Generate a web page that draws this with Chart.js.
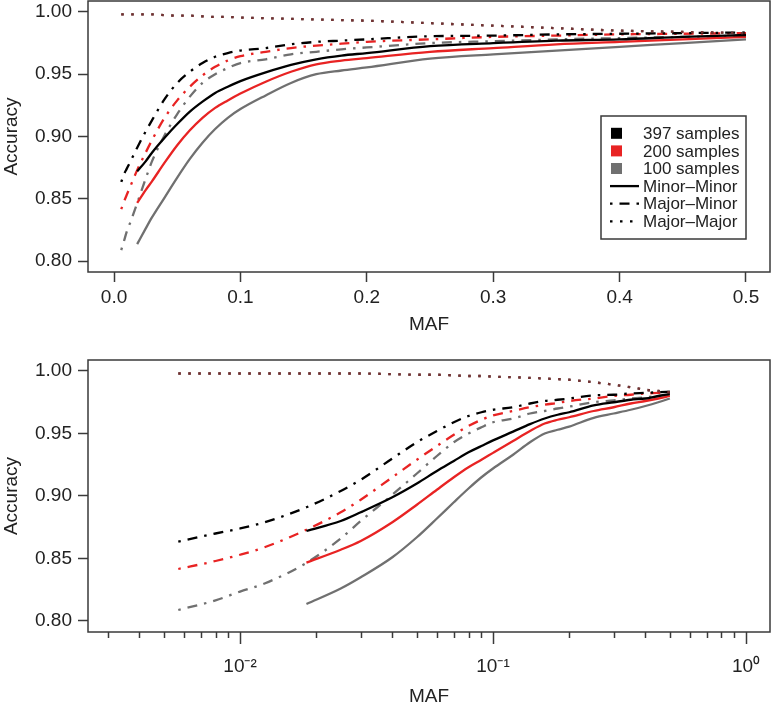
<!DOCTYPE html>
<html>
<head>
<meta charset="utf-8">
<script src="https://cdn.jsdelivr.net/npm/chart.js@4.4.1/dist/chart.umd.min.js"></script>
<style>
  html, body { margin: 0; padding: 0; background: #fff; overflow: hidden; }
  #top { position: absolute; left: 0; top: 0; width: 772px; height: 345px; }
  #bottom { position: absolute; left: 0; top: 345px; width: 772px; height: 365px; }
</style>
</head>
<body>
<div id="top"><canvas id="topChart"></canvas></div>
<div id="bottom"><canvas id="bottomChart"></canvas></div>
<script>
'use strict'
{
  // MAF grid the curves were read at
  const maf = [0.0057, 0.008, 0.01, 0.0125, 0.0183, 0.025, 0.03, 0.04, 0.05, 0.06, 0.07, 0.08, 0.09,
    0.1, 0.12, 0.14, 0.16, 0.18, 0.2, 0.25, 0.3, 0.35, 0.4, 0.45, 0.5];

  // Minor-Minor (solid)
  const mnmn397 = [null, null, null, null, 0.872, 0.880, 0.887, 0.899, 0.910, 0.920, 0.928, 0.935, 0.940,
    0.9445, 0.9515, 0.9575, 0.962, 0.965, 0.967, 0.9725, 0.975, 0.977, 0.978, 0.980, 0.9815];
  const mnmn200 = [null, null, null, null, 0.8467, 0.857, 0.864, 0.879, 0.893, 0.905, 0.915, 0.923, 0.929,
    0.9345, 0.944, 0.952, 0.958, 0.961, 0.963, 0.968, 0.971, 0.974, 0.976, 0.978, 0.980];
  const mnmn100 = [null, null, null, null, 0.8136, 0.826, 0.835, 0.851, 0.867, 0.882, 0.895, 0.906, 0.915,
    0.922, 0.933, 0.943, 0.950, 0.953, 0.9555, 0.9625, 0.966, 0.969, 0.972, 0.975, 0.978];

  // Major-Minor (dot-dash)
  const mjmn397 = [0.8635, 0.870, 0.874, 0.879, 0.891, 0.904, 0.913, 0.930, 0.943, 0.952, 0.959, 0.964, 0.967,
    0.969, 0.971, 0.974, 0.976, 0.977, 0.978, 0.9805, 0.981, 0.982, 0.9825, 0.983, 0.9835];
  const mjmn200 = [0.8416, 0.848, 0.853, 0.859, 0.873, 0.887, 0.897, 0.915, 0.929, 0.940, 0.949, 0.956, 0.961,
    0.9645, 0.968, 0.971, 0.973, 0.9745, 0.976, 0.978, 0.980, 0.981, 0.982, 0.9825, 0.983];
  const mjmn100 = [0.8088, 0.8165, 0.8235, 0.830, 0.8465, 0.866, 0.880, 0.901, 0.918, 0.932, 0.943, 0.950, 0.955,
    0.959, 0.962, 0.966, 0.968, 0.970, 0.9715, 0.975, 0.9765, 0.978, 0.979, 0.980, 0.981];

  // Major-Major (dotted)
  const mjmj397 = [0.998, 0.998, 0.998, 0.998, 0.998, 0.998, 0.998, 0.9975, 0.997, 0.997, 0.9965, 0.996, 0.996,
    0.9955, 0.995, 0.9945, 0.994, 0.9935, 0.993, 0.991, 0.989, 0.987, 0.985, 0.984, 0.983];
  const mjmj200 = [0.998, 0.998, 0.998, 0.998, 0.998, 0.998, 0.998, 0.9975, 0.997, 0.997, 0.9965, 0.996, 0.996,
    0.9955, 0.995, 0.9945, 0.994, 0.9935, 0.993, 0.991, 0.989, 0.987, 0.985, 0.984, 0.983];
  const mjmj100 = [0.998, 0.998, 0.998, 0.998, 0.998, 0.998, 0.998, 0.9975, 0.997, 0.997, 0.9965, 0.996, 0.996,
    0.9955, 0.995, 0.9945, 0.994, 0.9935, 0.993, 0.991, 0.989, 0.987, 0.985, 0.984, 0.983];

  const yTicks = [0.80, 0.85, 0.90, 0.95, 1.00];
  const xTicksTop = [0.0, 0.1, 0.2, 0.3, 0.4, 0.5];
  const logMajor = [0.01, 0.1, 1];
  const logLabels = ['10\u207B\u00B2', '10\u207B\u00B9', '10\u2070'];

  const sampleLabels = ['397 samples', '200 samples', '100 samples'];
  const typeLabels = ['Minor\u2013Minor', 'Major\u2013Minor', 'Major\u2013Major'];

  const BLACK = '#000000';
  const RED = '#e82323';
  const GRAY = '#707070';
  const AXIS = '#3a3a3a';
  const FONT = 'Liberation Sans, Arial, sans-serif';

  const SOLID = [];
  const DOTDASH = [2.5, 7, 10, 7];
  const DOTTED = [2.5, 7.5];

  const pts = arr => maf.map((x, i) => ({ x: x, y: arr[i] })).filter(p => p.y !== null);

  const line = (arr, color, dash) => ({
    data: pts(arr),
    borderColor: color,
    borderWidth: 2.3,
    borderDash: dash,
    pointRadius: 0,
    cubicInterpolationMode: 'monotone',
    fill: false,
  });

  // first in list is drawn on top
  const makeDatasets = () => [
    line(mjmj100, 'rgba(112,112,112,0.35)', DOTTED),
    line(mjmj200, 'rgba(232,35,35,0.5)', DOTTED),
    line(mjmj397, BLACK, DOTTED),
    line(mnmn397, BLACK, SOLID),
    line(mjmn397, BLACK, DOTDASH),
    line(mnmn200, RED, SOLID),
    line(mjmn200, RED, DOTDASH),
    line(mnmn100, GRAY, SOLID),
    line(mjmn100, GRAY, DOTDASH),
  ];

  const boxPlugin = {
    id: 'box',
    afterDraw(chart) {
      const { ctx, chartArea: a } = chart;
      ctx.save();
      ctx.strokeStyle = AXIS;
      ctx.lineWidth = 1.5;
      ctx.strokeRect(a.left, a.top, a.right - a.left, a.bottom - a.top);
      ctx.restore();
    }
  };

  const legendPlugin = {
    id: 'rLegend',
    afterDraw(chart) {
      const { ctx, chartArea: a } = chart;
      const bx = a.right - 169, by = a.bottom - 156, bw = 145, bh = 123;
      ctx.save();
      ctx.fillStyle = '#fff';
      ctx.fillRect(bx, by, bw, bh);
      ctx.strokeStyle = AXIS;
      ctx.lineWidth = 1.5;
      ctx.strokeRect(bx, by, bw, bh);
      ctx.font = '17px ' + FONT;
      ctx.textBaseline = 'middle';
      ctx.textAlign = 'left';
      const cols = [BLACK, RED, GRAY];
      const dashes = [SOLID, DOTDASH, DOTTED];
      for (let i = 0; i < 6; i++) {
        const y = by + 17.3 + i * 17.6;
        if (i < 3) {
          ctx.fillStyle = cols[i];
          ctx.fillRect(bx + 10, y - 5.5, 11, 11);
          ctx.fillStyle = '#222';
          ctx.fillText(sampleLabels[i], bx + 42, y + 1);
        } else {
          ctx.strokeStyle = BLACK;
          ctx.lineWidth = 2.3;
          ctx.setLineDash(dashes[i - 3]);
          ctx.beginPath();
          ctx.moveTo(bx + 9, y);
          ctx.lineTo(bx + 38, y);
          ctx.stroke();
          ctx.setLineDash([]);
          ctx.fillStyle = '#222';
          ctx.fillText(typeLabels[i - 3], bx + 42, y + 1);
        }
      }
      ctx.restore();
    }
  };

  // log axis: longer marks at decades, short at 2..9
  const logTickPlugin = {
    id: 'logTicks',
    afterDraw(chart) {
      const { ctx, chartArea: a } = chart;
      const sx = chart.scales.x;
      ctx.save();
      ctx.strokeStyle = AXIS;
      ctx.lineWidth = 1.5;
      sx.ticks.forEach(t => {
        const px = Math.round(sx.getPixelForValue(t.value)) + 0.5;
        const major = logMajor.some(m => Math.abs(m - t.value) < 1e-9);
        ctx.beginPath();
        ctx.moveTo(px, a.bottom);
        ctx.lineTo(px, a.bottom + (major ? 12 : 6));
        ctx.stroke();
      });
      ctx.restore();
    }
  };

  const tickFont = { family: FONT, size: 19 };

  const noPad = s => { s.paddingTop = 0; s.paddingBottom = 0; s.paddingLeft = 0; s.paddingRight = 0; };

  const yAxis = () => ({
    type: 'linear',
    min: 0.7912,
    max: 1.0088,
    afterFit: s => { s.width = 88; noPad(s); },
    afterBuildTicks: s => { s.ticks = yTicks.map(v => ({ value: v })); },
    ticks: { callback: v => v.toFixed(2), padding: 6, color: '#222', font: tickFont },
    grid: { drawOnChartArea: false, tickLength: 10, tickColor: AXIS, tickWidth: 1.5 },
    border: { display: false },
    title: { display: true, text: 'Accuracy', padding: 0, color: '#222', font: tickFont },
  });

  const topCtx = document.getElementById('topChart').getContext('2d');
  new Chart(topCtx, {
    type: 'line',
    data: { datasets: makeDatasets() },
    options: {
      responsive: true,
      maintainAspectRatio: false,
      animation: false,
      layout: { padding: { top: 1, right: 2, left: 0, bottom: 0 } },
      plugins: { legend: { display: false }, tooltip: { enabled: false } },
      scales: {
        x: {
          type: 'linear',
          min: -0.0206,
          max: 0.519,
          afterFit: s => { s.height = 73; noPad(s); },
          afterBuildTicks: s => { s.ticks = xTicksTop.map(v => ({ value: v })); },
          ticks: { callback: v => v.toFixed(1), padding: 4, maxRotation: 0, autoSkip: false, color: '#222', font: tickFont },
          grid: { drawOnChartArea: false, tickLength: 10, tickColor: AXIS, tickWidth: 1.5 },
          border: { display: false },
          title: { display: true, text: 'MAF', padding: { top: 0, bottom: 9 }, color: '#222', font: tickFont },
        },
        y: yAxis(),
      },
    },
    plugins: [boxPlugin, legendPlugin],
  });

  const bottomCtx = document.getElementById('bottomChart').getContext('2d');
  new Chart(bottomCtx, {
    type: 'line',
    data: { datasets: makeDatasets() },
    options: {
      responsive: true,
      maintainAspectRatio: false,
      animation: false,
      layout: { padding: { top: 15, right: 2, left: 0, bottom: 0 } },
      plugins: { legend: { display: false }, tooltip: { enabled: false } },
      scales: {
        x: {
          type: 'logarithmic',
          min: 0.002506,
          max: 1.244,
          afterFit: s => { s.height = 78; noPad(s); },
          afterBuildTicks: s => {
            const t = [];
            [0.001, 0.01, 0.1].forEach(d => {
              for (let k = 1; k <= 9; k++) {
                const v = d * k;
                if (v >= s.min && v <= s.max) t.push({ value: v });
              }
            });
            t.push({ value: 1 });
            s.ticks = t;
          },
          ticks: {
            callback: v => {
              const i = logMajor.findIndex(m => Math.abs(m - v) < 1e-9);
              return i >= 0 ? logLabels[i] : '';
            },
            padding: 11,
            maxRotation: 0,
            autoSkip: false,
            color: '#222',
            font: tickFont,
          },
          grid: { display: false, drawTicks: true, tickLength: 12 },
          border: { display: false },
          title: { display: true, text: 'MAF', padding: { top: 0, bottom: 2 }, color: '#222', font: tickFont },
        },
        y: yAxis(),
      },
    },
    plugins: [boxPlugin, logTickPlugin],
  });
}
</script>
</body>
</html>
